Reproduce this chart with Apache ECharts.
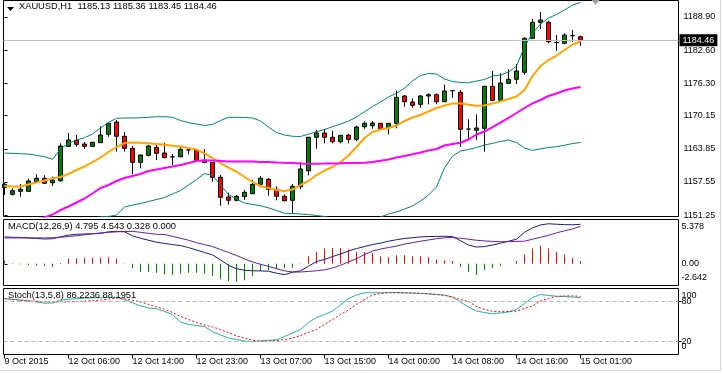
<!DOCTYPE html>
<html><head><meta charset="utf-8">
<script src="https://cdn.jsdelivr.net/npm/echarts@6/dist/echarts.min.js"></script>
<style>html,body{margin:0;padding:0;background:#fff}#c{width:723px;height:374px}</style>
</head><body><div id="c"></div>
<script>
const symbolName = 'XAUUSD,H1';
const times = ['10-09 21:00','10-11 23:00',
 '10-12 00:00','10-12 01:00','10-12 02:00','10-12 03:00','10-12 04:00','10-12 05:00','10-12 06:00','10-12 07:00','10-12 08:00','10-12 09:00','10-12 10:00','10-12 11:00','10-12 12:00','10-12 13:00','10-12 14:00','10-12 15:00','10-12 16:00','10-12 17:00','10-12 18:00','10-12 19:00','10-12 20:00','10-12 21:00','10-12 23:00',
 '10-13 00:00','10-13 01:00','10-13 02:00','10-13 03:00','10-13 04:00','10-13 05:00','10-13 06:00','10-13 07:00','10-13 08:00','10-13 09:00','10-13 10:00','10-13 11:00','10-13 12:00','10-13 13:00','10-13 14:00','10-13 15:00','10-13 16:00','10-13 17:00','10-13 18:00','10-13 19:00','10-13 20:00','10-13 21:00','10-13 23:00',
 '10-14 00:00','10-14 01:00','10-14 02:00','10-14 03:00','10-14 04:00','10-14 05:00','10-14 06:00','10-14 07:00','10-14 08:00','10-14 09:00','10-14 10:00','10-14 11:00','10-14 12:00','10-14 13:00','10-14 14:00','10-14 15:00','10-14 16:00','10-14 17:00','10-14 18:00','10-14 19:00','10-14 20:00','10-14 21:00','10-14 23:00',
 '10-15 00:00','10-15 01:00'];
const tickIndex = [0,8,16,24,32,40,48,56,64,72];
const tickLabels = ['9 Oct 2015','12 Oct 06:00','12 Oct 14:00','12 Oct 23:00','13 Oct 07:00','13 Oct 15:00','14 Oct 00:00','14 Oct 08:00','14 Oct 16:00','15 Oct 01:00'];

const opens = [1156.48,1155.19,1155.76,1155.76,1157.58,1158.23,1157.39,1157.77,1164.31,1165.46,
 1164.75,1164.31,1165.00,1166.60,1168.93,1166.22,1163.93,1161.27,1162.60,1164.12,
 1163.04,1162.32,1162.34,1163.62,1163.55,1161.65,1161.27,1158.42,1154.67,1154.05,
 1154.73,1155.30,1157.09,1158.04,1156.14,1154.81,1154.05,1156.63,1159.67,1166.03,
 1166.84,1166.03,1165.19,1166.46,1165.65,1168.04,1168.23,1168.69,1167.85,1168.69,
 1173.88,1172.74,1172.30,1173.88,1174.13,1172.80,1174.90,1174.58,1167.58,1167.36,
 1167.74,1175.72,1173.06,1176.29,1177.05,1178.39,1184.85,1187.89,1187.89,1184.05,
 1183.90,1185.35,1185.13];
const highs = [1157.34,1156.33,1157.15,1158.15,1158.99,1158.80,1158.53,1164.88,1166.84,1166.46,
 1165.13,1165.15,1168.12,1168.80,1169.32,1167.03,1164.37,1162.75,1164.60,1164.88,
 1165.00,1162.85,1164.24,1163.80,1163.80,1163.80,1161.35,1158.86,1155.49,1155.05,
 1155.99,1157.91,1158.67,1158.29,1156.71,1155.19,1157.15,1161.27,1166.10,1167.41,
 1167.60,1167.28,1166.45,1166.65,1168.23,1169.07,1169.12,1168.75,1168.75,1174.89,
 1174.07,1173.44,1174.07,1174.39,1174.39,1176.03,1175.02,1175.02,1169.45,1170.40,
 1175.84,1178.63,1178.19,1178.96,1179.96,1185.04,1188.52,1189.85,1188.20,1185.48,
 1185.80,1186.43,1185.36];
const lows = [1155.05,1154.96,1154.73,1155.70,1157.39,1157.15,1156.77,1157.58,1164.25,1164.24,
 1163.86,1164.25,1164.95,1166.14,1163.29,1163.29,1159.05,1160.13,1162.40,1161.71,
 1162.05,1160.76,1162.22,1162.79,1161.33,1161.08,1157.58,1153.02,1153.21,1153.86,
 1154.10,1155.25,1156.52,1154.92,1154.05,1153.86,1151.57,1156.14,1158.80,1163.86,
 1164.88,1164.88,1164.88,1164.88,1165.27,1167.66,1167.66,1167.60,1166.60,1167.74,
 1171.84,1171.65,1171.65,1172.30,1172.30,1172.75,1173.56,1164.24,1165.51,1165.51,
 1163.29,1173.00,1173.00,1176.25,1176.16,1177.93,1184.72,1186.62,1183.90,1182.49,
 1183.71,1184.15,1183.45];
const closes = [1157.09,1155.87,1156.14,1157.72,1158.23,1157.28,1157.91,1164.37,1165.51,1164.69,
 1164.31,1165.08,1166.46,1168.69,1166.22,1163.93,1161.27,1162.66,1164.37,1162.98,
 1162.15,1162.32,1163.74,1163.62,1161.65,1161.27,1158.42,1154.62,1154.05,1154.81,
 1155.57,1157.09,1158.23,1156.14,1154.81,1153.97,1156.71,1160.00,1166.03,1166.84,
 1166.03,1165.19,1166.41,1165.65,1167.98,1168.69,1168.74,1167.66,1168.69,1173.63,
 1172.80,1172.11,1173.88,1174.13,1172.80,1174.83,1174.90,1167.55,1167.58,1167.80,
 1175.72,1173.06,1176.35,1177.05,1178.63,1184.85,1187.89,1188.33,1184.20,1184.05,
 1185.48,1185.35,1184.46];

const bbUpper = [1163.04,1162.98,1162.91,1162.85,1162.60,1162.34,1161.84,1163.80,1164.88,1165.51,
 1165.95,1166.65,1167.79,1168.88,1169.64,1169.70,1169.70,1169.75,1169.83,1169.94,
 1169.94,1169.83,1169.22,1168.84,1168.55,1168.27,1168.46,1169.22,1169.83,1169.83,
 1169.79,1169.70,1169.13,1167.98,1166.94,1166.46,1166.22,1166.18,1166.62,1167.09,
 1167.51,1168.04,1168.55,1169.09,1169.89,1170.89,1171.88,1172.74,1173.69,1174.39,
 1175.40,1176.73,1177.78,1178.16,1178.06,1177.11,1176.64,1176.45,1176.41,1176.73,
 1177.02,1177.68,1177.87,1178.44,1179.58,1183.25,1185.80,1187.57,1188.71,1189.38,
 1190.23,1191.18,1191.66];
const bbLower = [null,null,null,null,null,null,null,null,null,null,
 null,1150.49,1150.93,1150.97,1151.25,1152.77,1153.15,1153.44,1153.82,1154.20,
 1154.58,1155.24,1155.91,1156.96,1158.00,1159.14,1158.76,1156.96,1155.15,1154.29,
 1153.53,1153.25,1153.00,1152.62,1152.11,1151.57,1151.54,1151.44,1151.35,1151.16,
 1150.97,1150.60,1150.30,1150.10,1150.00,1150.10,1150.50,1150.87,1151.44,1151.82,
 1152.39,1152.96,1153.91,1155.05,1156.58,1160.19,1162.47,1163.42,1163.71,1164.09,
 1164.56,1164.88,1165.23,1165.51,1165.04,1163.99,1163.52,1163.84,1164.09,1164.24,
 1164.52,1164.85,1165.04];
const maFast = [1156.77,1156.67,1156.67,1157.05,1157.43,1157.81,1158.19,1158.48,1159.05,1159.81,
 1160.47,1161.33,1162.18,1163.23,1164.18,1164.94,1165.04,1165.00,1164.88,1164.75,
 1164.60,1164.43,1164.28,1163.99,1163.71,1162.95,1162.09,1161.14,1160.28,1159.48,
 1158.48,1157.53,1156.77,1156.39,1156.00,1155.81,1156.10,1156.96,1157.72,1158.86,
 1159.71,1160.38,1161.33,1162.57,1164.18,1165.89,1167.03,1167.51,1167.79,1168.27,
 1169.13,1169.79,1170.27,1170.93,1171.60,1172.07,1172.45,1172.49,1172.22,1172.02,
 1172.07,1172.45,1172.83,1173.31,1173.78,1175.02,1177.68,1179.58,1180.72,1181.58,
 1182.63,1183.67,1184.24];
const maSlow = [null,null,null,null,1150.20,1150.78,1151.35,1152.20,1152.87,1153.63,
 1154.39,1155.34,1156.39,1156.96,1157.72,1158.29,1158.67,1159.05,1159.62,1159.90,
 1160.19,1160.47,1160.76,1161.14,1161.52,1161.65,1161.61,1161.52,1161.42,1161.42,
 1161.42,1161.42,1161.33,1161.33,1161.23,1161.18,1161.14,1161.04,1161.02,1161.02,
 1161.03,1161.05,1161.08,1161.12,1161.15,1161.18,1161.33,1161.56,1161.80,1162.18,
 1162.47,1162.79,1163.14,1163.52,1163.80,1164.47,1164.75,1165.00,1165.61,1166.56,
 1167.13,1167.98,1168.84,1169.70,1170.65,1171.60,1172.49,1173.12,1173.88,1174.35,
 1174.92,1175.31,1175.59];

const macdMain = [3.26,3.22,3.19,3.14,3.07,3.01,3.04,3.28,3.48,3.58,
 3.62,3.64,3.70,3.88,3.94,3.88,3.40,3.10,2.86,2.62,
 2.47,2.33,2.21,1.97,1.67,1.37,1.07,0.47,-0.19,-0.61,
 -0.79,-0.85,-0.87,-0.91,-1.15,-1.33,-1.03,-0.85,-0.31,0.27,
 0.53,0.87,1.19,1.55,1.85,2.09,2.33,2.51,2.74,2.92,
 3.07,3.16,3.26,3.31,3.32,3.34,3.31,2.80,2.27,2.03,
 2.09,2.27,2.51,2.74,2.98,3.82,4.36,4.72,4.86,4.80,
 4.76,4.74,4.795];
const macdSignal = [3.14,3.14,3.14,3.14,3.14,3.14,3.16,3.22,3.31,3.40,
 3.52,3.64,3.74,3.82,3.88,3.92,3.94,3.82,3.70,3.58,
 3.55,3.34,3.10,2.86,2.56,2.33,2.09,1.73,1.37,1.01,
 0.59,0.23,-0.07,-0.31,-0.61,-0.85,-1.00,-1.00,-0.93,-0.85,
 -0.73,-0.52,-0.19,0.23,0.61,1.13,1.55,1.79,1.97,2.15,
 2.39,2.56,2.74,2.89,3.04,3.15,3.18,3.10,2.98,2.86,
 2.77,2.72,2.68,2.68,2.72,2.74,2.98,3.22,3.46,3.76,
 4.00,4.24,4.543];
const macdHist = [0.40,0.05,-0.05,-0.16,-0.24,-0.28,-0.40,0.08,0.60,0.64,
 0.72,0.72,0.72,0.80,0.60,-0.02,-0.56,-0.96,-0.96,-1.08,
 -1.28,-1.36,-1.20,-1.08,-1.08,-1.20,-1.48,-1.88,-2.08,-2.20,
 -2.00,-1.48,-0.88,-0.80,-0.68,-0.56,-0.48,0.02,0.92,1.44,
 1.84,1.92,1.92,1.72,1.44,1.44,1.32,0.92,0.80,1.04,
 1.04,0.92,0.92,0.80,0.52,0.40,0.32,-0.40,-0.96,-1.36,
 -0.76,-0.56,-0.28,0.00,0.32,1.12,1.84,2.20,1.84,1.44,
 1.12,0.72,0.328];
const macdExtra = 0.000;

const stochMain = [84.8,83.6,82.6,81.4,79.8,77.7,78.0,82.1,83.8,84.5,
 85.3,85.9,86.2,86.5,86.8,83.3,78.3,73.5,70.5,69.4,
 65.2,60.6,49.2,45.5,43.9,42.4,34.8,29.5,25.0,22.7,
 20.5,19.2,20.6,21.5,22.3,27.3,32.6,37.9,48.5,56.1,
 60.6,65.9,75.0,84.8,90.2,93.5,93.5,93.6,93.9,93.8,
 93.5,93.2,92.7,92.0,90.9,90.0,87.1,79.5,72.0,65.9,
 63.6,61.7,62.9,64.4,68.2,77.3,86.4,90.9,89.4,88.3,
 87.9,87.1,86.2236];
const stochSignal = [84.8,83.3,82.1,81.1,80.3,79.8,79.8,79.8,79.8,80.3,
 80.8,81.5,82.6,83.9,85.5,84.4,82.3,79.8,75.8,72.0,
 68.9,63.6,57.6,53.0,48.5,44.7,41.7,37.9,33.3,28.0,
 25.0,21.5,20.2,20.5,21.1,22.7,24.7,28.8,33.3,37.9,
 45.5,53.0,60.6,67.4,75.8,83.3,90.2,92.4,93.6,93.6,
 93.3,93.0,92.6,91.8,90.9,89.7,86.7,83.3,80.3,72.7,
 68.2,65.5,64.7,65.2,65.6,69.7,73.5,81.1,84.8,87.9,
 88.6,88.8,88.1951];

const priceTicks = [1151.25,1157.55,1163.85,1170.15,1176.30,1182.60,1188.90];
const macdTicks = [-2.642,0,5.378];
const stochEdgeTicks = [0,100];
const stochLevels = [20,80];
const macdName = 'MACD(12,26,9)';
const stochName = 'Stoch(13,5,8)';

// ---------- build ----------
const FONT = "'Liberation Sans', Arial, sans-serif";
const last = closes.length - 1;
const xy = arr => arr.map((v, i) => v == null ? null : [i, v]).filter(Boolean);
const candles = opens.map((o, i) => [i, o, closes[i], lows[i], highs[i]]);
const xMin = -0.125, xMax = 84.25;
const lbl = {fontSize: 9, fontFamily: FONT, color: '#000'};
const titleStyle = {fontSize: 9.3, fontFamily: FONT, color: '#000', fontWeight: 'normal'};

const xAxisBase = (gi, show) => ({
  gridIndex: gi, type: 'value', min: xMin, max: xMax,
  splitLine: {show: false}, axisLine: {show: false},
  axisTick: show ? {show: true, length: 4, customValues: tickIndex, lineStyle: {color: '#000'}} : {show: false},
  axisLabel: show ? Object.assign({show: true, customValues: tickIndex, align: 'left', margin: 3,
     hideOverlap: false, formatter: v => tickLabels[tickIndex.indexOf(Math.round(v))]}, lbl) : {show: false}
});
const yAxisBase = (gi, min, max, ticks, extra) => ({
  gridIndex: gi, type: 'value', position: 'right', min: min, max: max,
  splitLine: {show: false}, axisLine: {show: false},
  axisTick: {show: true, length: 3, customValues: ticks, lineStyle: {color: '#000'}},
  axisLabel: Object.assign({customValues: ticks, showMinLabel: true, showMaxLabel: true, hideOverlap: false}, lbl, extra)
});

const chart = echarts.init(document.getElementById('c'), null, {renderer: 'canvas'});
chart.setOption({
  animation: false,
  backgroundColor: '#fff',
  textStyle: {fontFamily: FONT},
  title: [
    {text: `${symbolName}  ${opens[last].toFixed(2)} ${highs[last].toFixed(2)} ${lows[last].toFixed(2)} ${closes[last].toFixed(2)}`,
     left: 19, top: 2, padding: 0, textStyle: titleStyle},
    {text: `${macdName} ${macdMain[last].toFixed(3)} ${macdSignal[last].toFixed(3)} ${macdHist[last].toFixed(3)} ${macdExtra.toFixed(3)}`,
     left: 8, top: 222, padding: 0, textStyle: titleStyle},
    {text: `${stochName} ${stochMain[last].toFixed(4)} ${stochSignal[last].toFixed(4)}`,
     left: 8, top: 291, padding: 0, textStyle: titleStyle}
  ],
  grid: [
    {left: 3.5, top: 0.5, width: 675, height: 216, show: true, borderColor: '#000', borderWidth: 1},
    {left: 3.5, top: 219.5, width: 675, height: 66, show: true, borderColor: '#000', borderWidth: 1},
    {left: 3.5, top: 288.5, width: 675, height: 66, show: true, borderColor: '#000', borderWidth: 1}
  ],
  xAxis: [xAxisBase(0, false), xAxisBase(1, false), xAxisBase(2, true)],
  yAxis: [
    yAxisBase(0, 1150.97, 1192.04, priceTicks, {margin: 5, padding: [0, 0, 4, 0], formatter: v => v.toFixed(2)}),
    yAxisBase(1, -2.642, 5.378, macdTicks, {margin: 3, padding: [3, 0, 3, 0],
       verticalAlignMinLabel: 'bottom', verticalAlignMaxLabel: 'top',
       formatter: v => v === 0 ? '0.00' : v.toFixed(3)}),
    yAxisBase(2, 0, 100, stochEdgeTicks, {margin: 3, padding: [3, 0, 3, 0],
       verticalAlignMinLabel: 'bottom', verticalAlignMaxLabel: 'top', formatter: v => String(v)}),
    yAxisBase(2, 0, 100, stochLevels, {margin: 3, padding: [0, 0, 3, 0], formatter: v => String(v)})
  ],
  series: [
    {type: 'candlestick', xAxisIndex: 0, yAxisIndex: 0, data: candles,
     dimensions: ['idx', 'open', 'close', 'lowest', 'highest'],
     encode: {x: 'idx', y: ['open', 'close', 'lowest', 'highest']},
     barWidth: 5, clip: true,
     itemStyle: {color: '#008000', color0: '#FF0000', borderColor: '#000', borderColor0: '#000', borderColorDoji: '#000', borderWidth: 1},
     markLine: {symbol: 'none', silent: true, animation: false,
       data: [{yAxis: closes[last]}],
       lineStyle: {color: '#C0C0C0', type: 'solid', width: 1},
       label: Object.assign({position: 'end', formatter: closes[last].toFixed(2), backgroundColor: '#000',
         padding: [2, 3, 1, 3], distance: 1}, lbl, {color: '#fff'}),
       emphasis: {disabled: true}}},
    {type: 'line', xAxisIndex: 0, yAxisIndex: 0, data: xy(bbUpper), symbol: 'none', lineStyle: {color: '#008080', width: 1}},
    {type: 'line', xAxisIndex: 0, yAxisIndex: 0, data: xy(bbLower), symbol: 'none', lineStyle: {color: '#008080', width: 1}},
    {type: 'line', xAxisIndex: 0, yAxisIndex: 0, data: xy(maFast), symbol: 'none', lineStyle: {color: '#FFA500', width: 2}},
    {type: 'line', xAxisIndex: 0, yAxisIndex: 0, data: xy(maSlow), symbol: 'none', lineStyle: {color: '#FF00FF', width: 2}},
    {type: 'bar', xAxisIndex: 1, yAxisIndex: 1, data: xy(macdHist), barWidth: 1,
     itemStyle: {color: p => p.value[1] >= 0 ? '#FF0000' : '#008000'}},
    {type: 'line', xAxisIndex: 1, yAxisIndex: 1, data: xy(macdMain), symbol: 'none', lineStyle: {color: '#1A1A80', width: 1}},
    {type: 'line', xAxisIndex: 1, yAxisIndex: 1, data: xy(macdSignal), symbol: 'none', lineStyle: {color: '#6A1B9A', width: 1}},
    {type: 'line', xAxisIndex: 2, yAxisIndex: 2, data: xy(stochMain), symbol: 'none', lineStyle: {color: '#20B2AA', width: 1},
     markLine: {symbol: 'none', silent: true, label: {show: false},
       data: stochLevels.map(v => ({yAxis: v})),
       lineStyle: {color: '#B4B4B4', type: [4, 3], width: 1}}},
    {type: 'line', xAxisIndex: 2, yAxisIndex: 2, data: xy(stochSignal), symbol: 'none', lineStyle: {color: '#FF0000', width: 1, type: [2, 2]}}
  ],
  graphic: [
    {type: 'polygon', shape: {points: [[7, 7], [14, 7], [10.5, 11]]}, style: {fill: '#000'}, z: 100},
    {type: 'polygon', shape: {points: [[591.5, 0], [599.5, 0], [595.5, 5]]}, style: {fill: '#A0A0A0'}, z: 100},
    {type: 'line', shape: {x1: 720.5, y1: 0, x2: 720.5, y2: 370.5}, style: {stroke: '#D8D8D8', lineWidth: 1}, z: 100},
    {type: 'line', shape: {x1: 0, y1: 370.5, x2: 720.5, y2: 370.5}, style: {stroke: '#D8D8D8', lineWidth: 1}, z: 100}
  ]
});
</script>
</body></html>
